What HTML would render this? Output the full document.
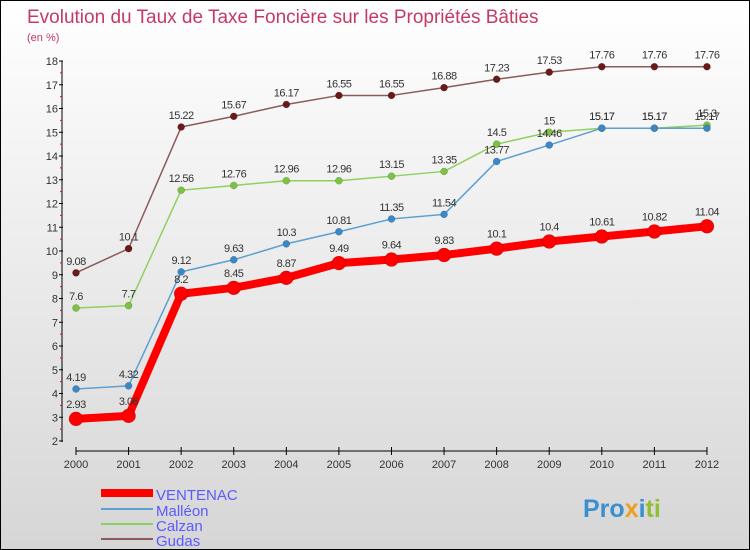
<!DOCTYPE html>
<html><head><meta charset="utf-8"><style>
body{margin:0}
#c{position:relative;width:748px;height:548px;border:1px solid #000;background:linear-gradient(#fff,#d6d6d6);font-family:"Liberation Sans",sans-serif;overflow:hidden}
svg text{font-family:"Liberation Sans",sans-serif}
</style></head><body>
<div id="c">
<svg id="s" width="748" height="548">
<text x="26" y="22" font-size="19" fill="#c43a62">Evolution du Taux de Taxe Foncière sur les Propriétés Bâties</text>
<text x="26" y="40" font-size="11" fill="#c43a62">(en %)</text>
<g id="axes"></g><g id="series"></g>
<g>
<rect x="100" y="488" width="52" height="8" fill="#f00"/>
<text x="155" y="499" font-size="15" fill="#5a5aff">VENTENAC</text>
<rect x="100" y="507" width="52" height="2" fill="#5ba0d0"/>
<text x="155" y="515" font-size="15" fill="#5a5aff">Malléon</text>
<rect x="100" y="522" width="52" height="2" fill="#90d060"/>
<text x="155" y="530" font-size="15" fill="#5a5aff">Calzan</text>
<rect x="100" y="537" width="52" height="2" fill="#8b5a5a"/>
<text x="155" y="545" font-size="15" fill="#5a5aff">Gudas</text>
</g>
<text x="582" y="516" font-size="25" font-weight="bold" fill="#3a8fd0">Pro<tspan fill="#f0a020">x</tspan><tspan fill="#3a8fd0">i</tspan><tspan fill="#90c030">ti</tspan></text>
</svg>
</div>
<script>
const years=[2000,2001,2002,2003,2004,2005,2006,2007,2008,2009,2010,2011,2012];
const ventenac=[2.93,3.06,8.2,8.45,8.87,9.49,9.64,9.83,10.1,10.4,10.61,10.82,11.04];
const malleon=[4.19,4.32,9.12,9.63,10.3,10.81,11.35,11.54,13.77,14.46,15.17,15.17,15.17];
const calzan=[7.6,7.7,12.56,12.76,12.96,12.96,13.15,13.35,14.5,15,15.17,15.17,15.3];
const gudas=[9.08,10.1,15.22,15.67,16.17,16.55,16.55,16.88,17.23,17.53,17.76,17.76,17.76];
const yTicks=[2,3,4,5,6,7,8,9,10,11,12,13,14,15,16,17,18];
const NS='http://www.w3.org/2000/svg';
const X=i=>75+i*52.58, Y=v=>440-(v-2)*23.75;
function mk(t,a,p){const e=document.createElementNS(NS,t);for(const k in a)e.setAttribute(k,a[k]);p.appendChild(e);return e;}
const ax=document.getElementById('axes');
let l=mk('line',{x1:61,y1:60,x2:61,y2:441,stroke:'#000'},ax);


l=mk('line',{x1:75,y1:450,x2:706,y2:450,stroke:'#000'},ax);


yTicks.forEach(v=>{
 mk('line',{x1:58,x2:62,y1:Y(v),y2:Y(v),stroke:'#000'},ax);
 if(v<18)mk('line',{x1:59,x2:61,y1:Y(v+0.5),y2:Y(v+0.5),stroke:'#f00'},ax);
 const t=mk('text',{x:57,y:Y(v)+4,'font-size':11,'text-anchor':'end',fill:'#333'},ax);t.textContent=v;
 
 
});
years.forEach((y,i)=>{
 mk('line',{x1:X(i),x2:X(i),y1:446,y2:454,stroke:'#000'},ax);
 const t=mk('text',{x:X(i),y:467,'font-size':11,'text-anchor':'middle',fill:'#333'},ax);t.textContent=y;
 
 
});
const sg=document.getElementById('series');
[[gudas,'#6b1a1a','#8b5a5a',1.5,3.5,'gudas'],[calzan,'#7cc440','#90d060',1.5,3.5,'calzan'],[malleon,'#3a88c8','#5ba0d0',1.5,3.5,'malleon'],[ventenac,'#f00','#f00',8,7,'ventenac']].forEach(([d,dc,lc,w,r,n])=>{
 const g=mk('g',{},sg);
 
 
 const p=mk('polyline',{points:d.map((v,i)=>X(i)+','+Y(v)).join(' '),fill:'none',stroke:lc,'stroke-width':w,'stroke-linejoin':'round'},g);
 
 
 d.forEach((v,i)=>{
  const c=mk('circle',{cx:X(i),cy:Y(v),r:r,fill:dc,stroke:'rgba(0,0,0,0.3)','stroke-width':0.5},g);
  
  
  const t=mk('text',{x:X(i),y:Y(v)-(n=='ventenac'?11:8),'font-size':11,'text-anchor':'middle',fill:'#333','letter-spacing':'-0.5'},g);
  t.textContent=v;
  
  
 });
});
</script>
</body></html>
